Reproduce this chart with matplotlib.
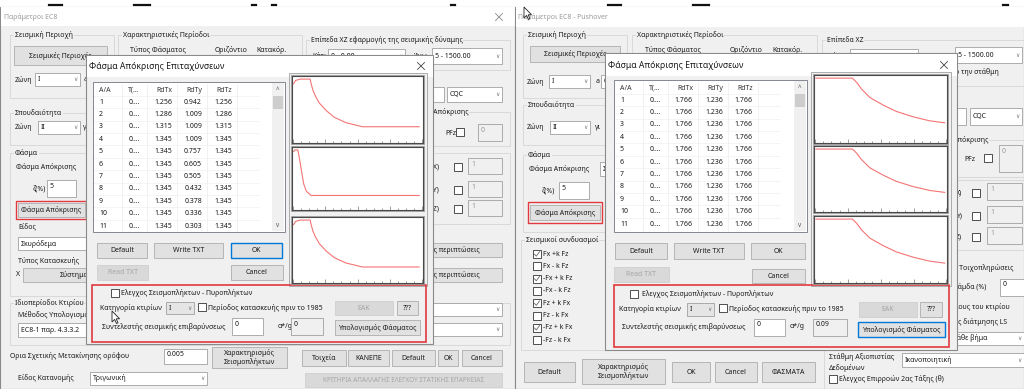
import matplotlib
matplotlib.use('Agg')
import matplotlib.pyplot as plt
from matplotlib.patches import Rectangle, Polygon

plt.rcParams['font.family'] = ['Noto Sans', 'DejaVu Sans']

# ------------------------------------------------------------------ data
table_columns = ['A/A', 'T(...', 'RdTx', 'RdTy', 'RdTz']
row_ids = ['1', '2', '3', '4', '5', '6', '7', '8', '9', '10', '11']
row_periods = ['0....', '0....', '0....', '0....', '0....', '0....',
               '0....', '0....', '0....', '0....', '0....']

left_RdTx = [1.256, 1.286, 1.315, 1.345, 1.345, 1.345, 1.345, 1.345, 1.345, 1.345, 1.345]
left_RdTy = [0.942, 1.009, 1.009, 1.009, 0.757, 0.605, 0.505, 0.432, 0.378, 0.336, 0.303]
left_RdTz = [1.256, 1.286, 1.315, 1.345, 1.345, 1.345, 1.345, 1.345, 1.345, 1.345, 1.345]

right_RdTx = [1.766, 1.766, 1.766, 1.766, 1.766, 1.766, 1.766, 1.766, 1.766, 1.766, 1.766]
right_RdTy = [1.236, 1.236, 1.236, 1.236, 1.236, 1.236, 1.236, 1.236, 1.236, 1.236, 1.236]
right_RdTz = [1.766, 1.766, 1.766, 1.766, 1.766, 1.766, 1.766, 1.766, 1.766, 1.766, 1.766]

# spectra curves (period T, spectral value)
left_T_xz = [0.02, 0.08, 0.23, 0.53, 0.57, 0.62, 0.70, 0.82, 1.03, 1.28, 1.64, 2.15, 3.90]
left_Sd_xz = [1.243, 1.316, 1.345, 1.345, 1.220, 1.096, 0.965, 0.819, 0.658, 0.512, 0.395, 0.307, 0.307]
left_T_y = [0.02, 0.06, 0.15, 0.20, 0.26, 0.33, 0.41, 0.56, 3.90]
left_Sd_y = [0.980, 1.009, 1.009, 0.862, 0.657, 0.422, 0.293, 0.217, 0.217]

right_T = [0.03, 1.14, 1.27, 1.42, 1.67, 2.08, 2.48, 2.99, 3.49, 3.95]
right_Sd_xz = [1.766, 1.766, 1.644, 1.456, 1.221, 1.005, 0.827, 0.676, 0.564, 0.507]
right_Sd_y = [1.236, 1.236, 1.151, 1.019, 0.855, 0.704, 0.579, 0.473, 0.395, 0.355]

combo_labels = ['Fx +k Fz', 'Fx - k Fz', '-Fx + k Fz', '-Fx - k Fz',
                'Fz + k Fx', 'Fz - k Fx', '-Fz + k Fx', '-Fz - k Fx']
combo_checked = [True, False, True, False, True, False, True, False]

# ------------------------------------------------------------------ canvas
W, H = 1024, 389
fig = plt.figure(figsize=(W / 100, H / 100), dpi=100)
ax = fig.add_axes([0, 0, 1, 1])
ax.set_xlim(0, W)
ax.set_ylim(H, 0)
ax.axis('off')

BG = '#f0f0f0'
RED = '#e0393e'
BLUE = '#0078d7'
FS = 5.0
Z = [1.0]


def z():
    Z[0] += 0.001
    return Z[0]


def rect(x0, y0, x1, y1, fc='none', ec='none', lw=0.6):
    ax.add_patch(Rectangle((x0, y0), x1 - x0, y1 - y0, facecolor=fc,
                           edgecolor=ec, linewidth=lw, zorder=z()))


def txt(x, y, s, fs=FS, c='#1a1a1a', ha='left', va='center', **kw):
    ax.text(x, y, s, fontsize=fs, color=c, ha=ha, va=va, zorder=z(), **kw)


def button(x0, y0, x1, y1, label, fs=FS, ec='#adadad', fc='#e1e1e1', tc='#1a1a1a', lw=0.6):
    rect(x0, y0, x1, y1, fc, ec, lw)
    txt((x0 + x1) / 2, (y0 + y1) / 2, label, fs, tc, ha='center', linespacing=1.1)


def disabled(x0, y0, x1, y1, label, fs=FS):
    button(x0, y0, x1, y1, label, fs, ec='#cfcfcf', fc='#d9d9d9', tc='#a6a6a6')


def combo(x0, y0, x1, y1, label, fc='#ffffff'):
    rect(x0, y0, x1, y1, fc, '#a0a0a0', 0.6)
    txt(x0 + 3, (y0 + y1) / 2, label)
    txt(x1 - 5, (y0 + y1) / 2, '∨', fs=4.2, c='#777777', ha='center')


def field(x0, y0, x1, y1, label='', fc='#ffffff', tc='#1a1a1a'):
    rect(x0, y0, x1, y1, fc, '#a0a0a0', 0.6)
    if label:
        txt(x0 + 3, y0 + 6, label, c=tc)


def check(x, y, checked=False, s=8):
    rect(x, y, x + s, y + s, '#ffffff', '#333333', 0.6)
    if checked:
        ax.plot([x + 1.5, x + 3.3, x + 6.6], [y + 4.2, y + 6.2, y + 1.6],
                color='#666666', lw=0.6, zorder=z())


def group(x0, y0, x1, y1, label):
    rect(x0, y0, x1, y1, 'none', '#d5d5d5', 0.6)
    txt(x0 + 5, y0, label, bbox=dict(fc=BG, ec='none', pad=0.4))


def close_x(x, y, c='#888888', s=3.5):
    ax.plot([x - s, x + s], [y - s, y + s], color=c, lw=0.6, zorder=z())
    ax.plot([x - s, x + s], [y + s, y - s], color=c, lw=0.6, zorder=z())


def cursor(x, y):
    pts = [(x, y), (x, y + 11), (x + 2.6, y + 8.4), (x + 4.5, y + 12.5),
           (x + 6, y + 11.8), (x + 4.2, y + 7.8), (x + 7.6, y + 7.8)]
    ax.add_patch(Polygon(pts, closed=True, fc='white', ec='#222222', lw=0.6, zorder=z()))


def table(x0, y0, x1, y1, vals_x, vals_y, vals_z):
    rect(x0, y0, x1, y1, '#ffffff', '#828790', 0.7)
    seps = [29, 54, 84, 114, 144]
    rights = [47, 79, 109, 139]
    for s in seps:
        ax.plot([x0 + s, x0 + s], [y0 + 2, y1 - 1], color='#ececec', lw=0.5, zorder=z())
    hy = y0 + 8
    txt(x0 + 6, hy, table_columns[0], c='#333333')
    for j in range(4):
        txt(x0 + rights[j], hy, table_columns[j + 1], c='#333333', ha='right')
    for i in range(len(row_ids)):
        yy = y0 + 20 + 12.4 * i
        ax.plot([x0 + 1, x0 + 166], [yy - 6.2, yy - 6.2], color='#f0f0f0', lw=0.5, zorder=z())
        txt(x0 + 6, yy, row_ids[i])
        txt(x0 + rights[0], yy, row_periods[i], ha='right')
        txt(x0 + rights[1], yy, f'{vals_x[i]:.3f}', ha='right')
        txt(x0 + rights[2], yy, f'{vals_y[i]:.3f}', ha='right')
        txt(x0 + rights[3], yy, f'{vals_z[i]:.3f}', ha='right')
    # scrollbar
    rect(x1 - 13, y0 + 1, x1 - 1, y1 - 1, BG, 'none')
    txt(x1 - 7, y0 + 8, '^', fs=4.5, c='#555555', ha='center')
    rect(x1 - 12, y0 + 14, x1 - 2, y0 + 27, '#cdcdcd', 'none')
    txt(x1 - 7, y1 - 7, 'v', fs=4.5, c='#555555', ha='center')


def spectrum(x0, y0, x1, y1, T, Sd):
    rect(x0 - 1, y0 - 1, x1 + 1, y1 + 1, 'none', '#9a9a9a', 0.6)
    a = fig.add_axes([x0 / W, 1 - y1 / H, (x1 - x0) / W, (y1 - y0) / H])
    a.plot(T, Sd, color='#f47474', lw=0.8)
    top = max(Sd)
    a.set_xlim(-0.03, 4.02)
    a.set_ylim(-0.035 * top, 1.05 * top)
    a.set_facecolor('white')
    for sp in a.spines.values():
        sp.set_color('#4a4a4a')
        sp.set_linewidth(0.8)
    a.set_xticks([0, 1, 2, 3, 4])
    a.set_xticks([0.25 * k for k in range(17)], minor=True)
    a.tick_params(axis='x', which='major', direction='in', length=3.2, width=0.5,
                  color='#777777', labelbottom=False)
    a.tick_params(axis='x', which='minor', direction='in', length=1.6, width=0.5,
                  color='#777777')
    a.set_yticks([])
    return a


# ------------------------------------------------------------------ top strip
for xa, xb in [(49, 62), (134, 150), (252, 256), (272, 276), (451, 455),
               (608, 621), (693, 709), (1003, 1008)]:
    ax.plot([xa, xb], [4.5, 4.5], color='#111111', lw=1.6, zorder=z())

# ================================================================== LEFT WINDOW
rect(0, 7, 515, 389, BG, '#8a8a8a', 0.8)
rect(0.5, 7, 514.5, 26, '#ffffff', 'none')
txt(4, 17, 'Παράμετροι EC8', c='#9a9a9a')
close_x(499, 17)

group(10, 35, 114, 98, 'Σεισμική Περιοχή')
button(14, 46, 107, 65, 'Σεισμικές Περιοχές')
txt(15, 80, 'Ζώνη')
combo(35, 73, 80, 86, 'I')
txt(84, 79, 'a')
field(88, 73, 112, 86, '0.')
group(118, 35, 302, 98, 'Χαρακτηριστικές Περίοδοι')
txt(130, 50, 'Τύπος Φάσματος')
txt(215, 50, 'Οριζόντιο')
txt(256, 50, 'Κατακόρ.')
group(306, 40, 510, 70, 'Επίπεδα XZ εφαρμογής της σεισμικής δύναμης')
txt(312, 56, 'Κάτω')
combo(328, 49, 405, 63, '0 - 0.00')
txt(414, 56, 'Άνω')
combo(432, 48, 502, 64, '5 - 1500.00')
field(415, 87, 444, 102)
combo(447, 87, 502, 102, 'CQC')
rect(306, 112, 510, 146, 'none', '#d5d5d5', 0.6)
txt(428, 112, 'ς Απόκρισης', bbox=dict(fc=BG, ec='none', pad=0.4))
txt(445, 133, 'PFz')
check(456, 128)
field(478, 124, 502, 141, '0', fc=BG, tc='#999999')
rect(306, 153, 510, 224, 'none', '#d5d5d5', 0.6)
txt(429, 153, 'T)', bbox=dict(fc=BG, ec='none', pad=0.4))
for yy, lab in [(167, 'TX)'), (190, 'TY)'), (209, 'TZ)')]:
    txt(430, yy, lab)
    check(454, yy - 4)
    field(468, yy - 9, 502, yy + 7, '1', fc=BG, tc='#999999')
button(392, 243, 502, 257, 'Ειδικές περιπτώσεις')
button(392, 268, 502, 282, 'Ειδικές περιπτώσεις')

group(10, 113, 112, 145, 'Σπουδαιότητα')
txt(15, 127, 'Ζώνη')
combo(38, 121, 80, 134, 'II')
txt(83, 127, 'γι')
group(10, 153, 112, 296, 'Φάσμα')
txt(16, 167, 'Φάσμα Απόκρισης')
txt(33, 189, 'ζ(%)')
field(47, 180, 76, 197, '5')
button(18, 203, 85, 217, 'Φάσμα Απόκρισης')
rect(16, 201, 87, 219, 'none', RED, 1.0)
txt(18, 227, 'Είδος')
combo(18, 237, 110, 250, 'Σκυρόδεμα')
txt(18, 261, 'Τύπος Κατασκευής')
txt(16, 275, 'X')
button(23, 268, 125, 282, 'Σύστημα')
group(10, 303, 510, 345, 'Ιδιοπερίοδοι Κτιρίου')
txt(18, 315, 'Μέθοδος Υπολογισμού')
combo(18, 323, 99, 337, 'EC8-1 παρ. 4.3.3.2')
combo(300, 303, 502, 316, '')
combo(300, 323, 502, 336, '')

txt(10, 356, 'Ορια Σχετικής Μετακίνησης ορόφου')
field(164, 349, 207, 364, '0.005')
button(212, 347, 287, 368, 'Χαρακτηρισμός\nΣεισμοπλήκτων')
button(302, 350, 346, 366, 'Τοιχεία')
button(348, 350, 389, 366, 'ΚΑΝΕΠΕ')
button(392, 350, 435, 366, 'Default')
button(438, 350, 458, 366, 'OK')
button(462, 350, 502, 366, 'Cancel')
txt(18, 378, 'Είδος Κατανομής')
combo(90, 372, 207, 385, 'Τριγωνική')
disabled(305, 373, 502, 387, 'ΚΡΙΤΗΡΙΑ ΑΠΑΛΛΑΓΗΣ ΕΛΕΓΧΟΥ ΣΤΑΤΙΚΗΣ ΕΠΑΡΚΕΙΑΣ', fs=4.6)

# ---- left inner dialog
rect(86, 55, 433, 344, BG, '#8a8a8a', 0.8)
rect(86.5, 55.5, 432.5, 77, '#ffffff', 'none')
txt(89, 66, 'Φάσμα Απόκρισης Επιταχύνσεων', fs=6.2)
close_x(421, 66, c='#444444')
table(93, 82, 285, 232, left_RdTx, left_RdTy, left_RdTz)
rect(289, 73, 427, 286, BG, '#a0a0a0', 0.6)
button(97, 243, 147, 258, 'Default')
button(154, 243, 223, 258, 'Write TXT')
button(231, 243, 282, 258, 'OK', ec=BLUE, lw=1.0)
disabled(97, 265, 148, 280, 'Read TXT')
button(231, 265, 283, 280, 'Cancel')
rect(92, 285, 426, 342, 'none', RED, 1.2)
check(111, 289)
txt(121, 293, 'Ελεγχος Σεισμοπλήκτων - Πυροπλήκτων')
txt(100, 308, 'Κατηγορία κτιρίων')
combo(166, 302, 194, 314, 'I', fc='#e5e5e5')
check(198, 303)
txt(208, 308, 'Περίοδος κατασκευής πριν το 1985')
disabled(335, 301, 393, 315, 'ΕΑΚ')
button(397, 301, 418, 315, '???')
txt(102, 327, 'Συντελεστής σεισμικής επιβαρύνσεως')
field(232, 318, 263, 335, '0')
txt(278, 326, 'α*/g')
field(291, 318, 323, 335, '0', fc=BG)
button(335, 320, 420, 335, 'Υπολογισμός Φάσματος')
cursor(112, 311)

spectrum(292, 76, 423, 143, left_T_xz, left_Sd_xz)
spectrum(292, 147, 423, 210, left_T_y, left_Sd_y)
spectrum(292, 217, 423, 283, left_T_xz, left_Sd_xz)

# ================================================================== RIGHT WINDOW
rect(515, 7, 1024, 389, BG, '#8a8a8a', 0.8)
rect(515.5, 7, 1024, 27, '#ffffff', 'none')
txt(518, 17, 'Παράμετροι EC8 - Pushover', c='#9a9a9a')

group(523, 35, 627, 98, 'Σεισμική Περιοχή')
button(530, 46, 620, 62, 'Σεισμικές Περιοχές')
txt(527, 82, 'Ζώνη')
combo(549, 75, 590, 88, 'I')
txt(596, 81, 'a')
field(601, 75, 625, 88, '0')
group(632, 35, 817, 98, 'Χαρακτηριστικές Περίοδοι')
txt(645, 50, 'Τύπος Φάσματος')
txt(730, 50, 'Οριζόντιο')
txt(772, 50, 'Κατακόρ.')
group(822, 40, 1030, 86, 'Επίπεδα XZ')
txt(828, 56, 'Κάτω')
combo(850, 49, 918, 63, '0 - 0.00')
txt(928, 56, 'Άνω')
combo(955, 47, 1022, 63, '5 - 1500.00')
txt(955, 72, 'ο την στάθμη')
field(940, 108, 966, 125)
combo(970, 108, 1022, 125, 'CQC')
rect(822, 140, 1030, 180, 'none', '#d5d5d5', 0.6)
txt(953, 140, 'Απόκρισης', bbox=dict(fc=BG, ec='none', pad=0.4))
txt(964, 159, 'PFz')
check(984, 154)
field(999, 145, 1022, 172, '0', fc=BG, tc='#999999')
rect(822, 177, 1030, 250, 'none', '#d5d5d5', 0.6)
for yy, lab in [(193, 'X)'), (216, 'Y)'), (237, 'Z)')]:
    txt(956, yy, lab)
    check(972, yy - 4)
    field(987, yy - 10, 1022, yy + 7, '1', fc=BG, tc='#999999')
txt(954, 268, 'ς Τοιχοπληρώσεις')
txt(954, 287, 'λάμδα (%)')
field(1000, 279, 1026, 296, '0')
txt(954, 307, 'μους του κτιρίου')
txt(954, 322, 'υς διάτμησης LS')
combo(945, 332, 1024, 345, 'ε κάθε βήμα')
txt(829, 357, 'Στάθμη Αξιοπιστίας')
txt(829, 368, 'Δεδομένων')
combo(902, 353, 1024, 367, 'Ικανοποιητική')
check(829, 375)
txt(839, 379, 'Ελεγχος Επιρροών 2ας Τάξης (θ)')
ax.plot([824, 824], [260, 389], color='#d5d5d5', lw=0.6, zorder=z())

group(523, 105, 625, 145, 'Σπουδαιότητα')
txt(527, 127, 'Ζώνη')
combo(550, 121, 590, 134, 'II')
txt(595, 127, 'γι')
group(523, 155, 640, 232, 'Φάσμα')
txt(529, 169, 'Φάσμα Απόκρισης')
combo(600, 162, 660, 176, 'Σ')
txt(542, 191, 'ζ(%)')
field(559, 182, 589, 199, '5')
button(530, 205, 600, 220, 'Φάσμα Απόκρισης')
rect(528, 202, 602, 223, 'none', RED, 1.0)
group(521, 240, 820, 350, 'Σεισμικοί συνδυασμοί')
for i, (lab, chk) in enumerate(zip(combo_labels, combo_checked)):
    yy = 254 + 12.3 * i
    check(533, yy - 4, chk)
    txt(543, yy, lab)
button(524, 362, 575, 382, 'Default')
button(582, 359, 665, 384, 'Χαρακτηρισμός\nΣεισμοπλήκτων')
button(672, 362, 710, 382, 'OK')
button(715, 362, 757, 382, 'Cancel')
button(762, 362, 815, 382, 'ΦΑΣΜΑΤΑ')
cursor(524, 7)

# ---- right inner dialog
rect(605, 53, 957, 350, BG, '#8a8a8a', 0.8)
rect(605.5, 53.5, 956.5, 76, '#ffffff', 'none')
txt(608, 65, 'Φάσμα Απόκρισης Επιταχύνσεων', fs=6.2)
close_x(944, 65, c='#444444')
table(614, 80, 807, 232, right_RdTx, right_RdTy, right_RdTz)
rect(811, 72, 951, 286, BG, '#a0a0a0', 0.6)
button(615, 243, 667, 259, 'Default')
button(674, 243, 744, 259, 'Write TXT')
button(751, 243, 805, 259, 'OK')
disabled(614, 267, 669, 282, 'Read TXT')
button(752, 269, 805, 283, 'Cancel')
rect(614, 285, 949, 347, 'none', RED, 1.2)
check(630, 290)
txt(642, 294, 'Ελεγχος Σεισμοπλήκτων - Πυροπλήκτων')
txt(619, 309, 'Κατηγορία κτιρίων')
combo(687, 303, 714, 316, 'I', fc='#e5e5e5')
check(719, 304)
txt(729, 309, 'Περίοδος κατασκευής πριν το 1985')
disabled(859, 302, 917, 317, 'ΕΑΚ')
button(920, 302, 942, 317, '???')
txt(622, 327, 'Συντελεστής σεισμικής επιβαρύνσεως')
field(754, 319, 785, 336, '0')
txt(790, 326, 'α*/g')
field(813, 319, 847, 336, '0.09', fc=BG)
button(858, 322, 945, 337, 'Υπολογισμός Φάσματος', ec=BLUE, lw=1.0)

spectrum(814, 75, 947, 143, right_T, right_Sd_xz)
spectrum(814, 146, 947, 212, right_T, right_Sd_y)
spectrum(814, 216, 947, 283, right_T, right_Sd_xz)

fig.savefig('out.png', dpi=100)
